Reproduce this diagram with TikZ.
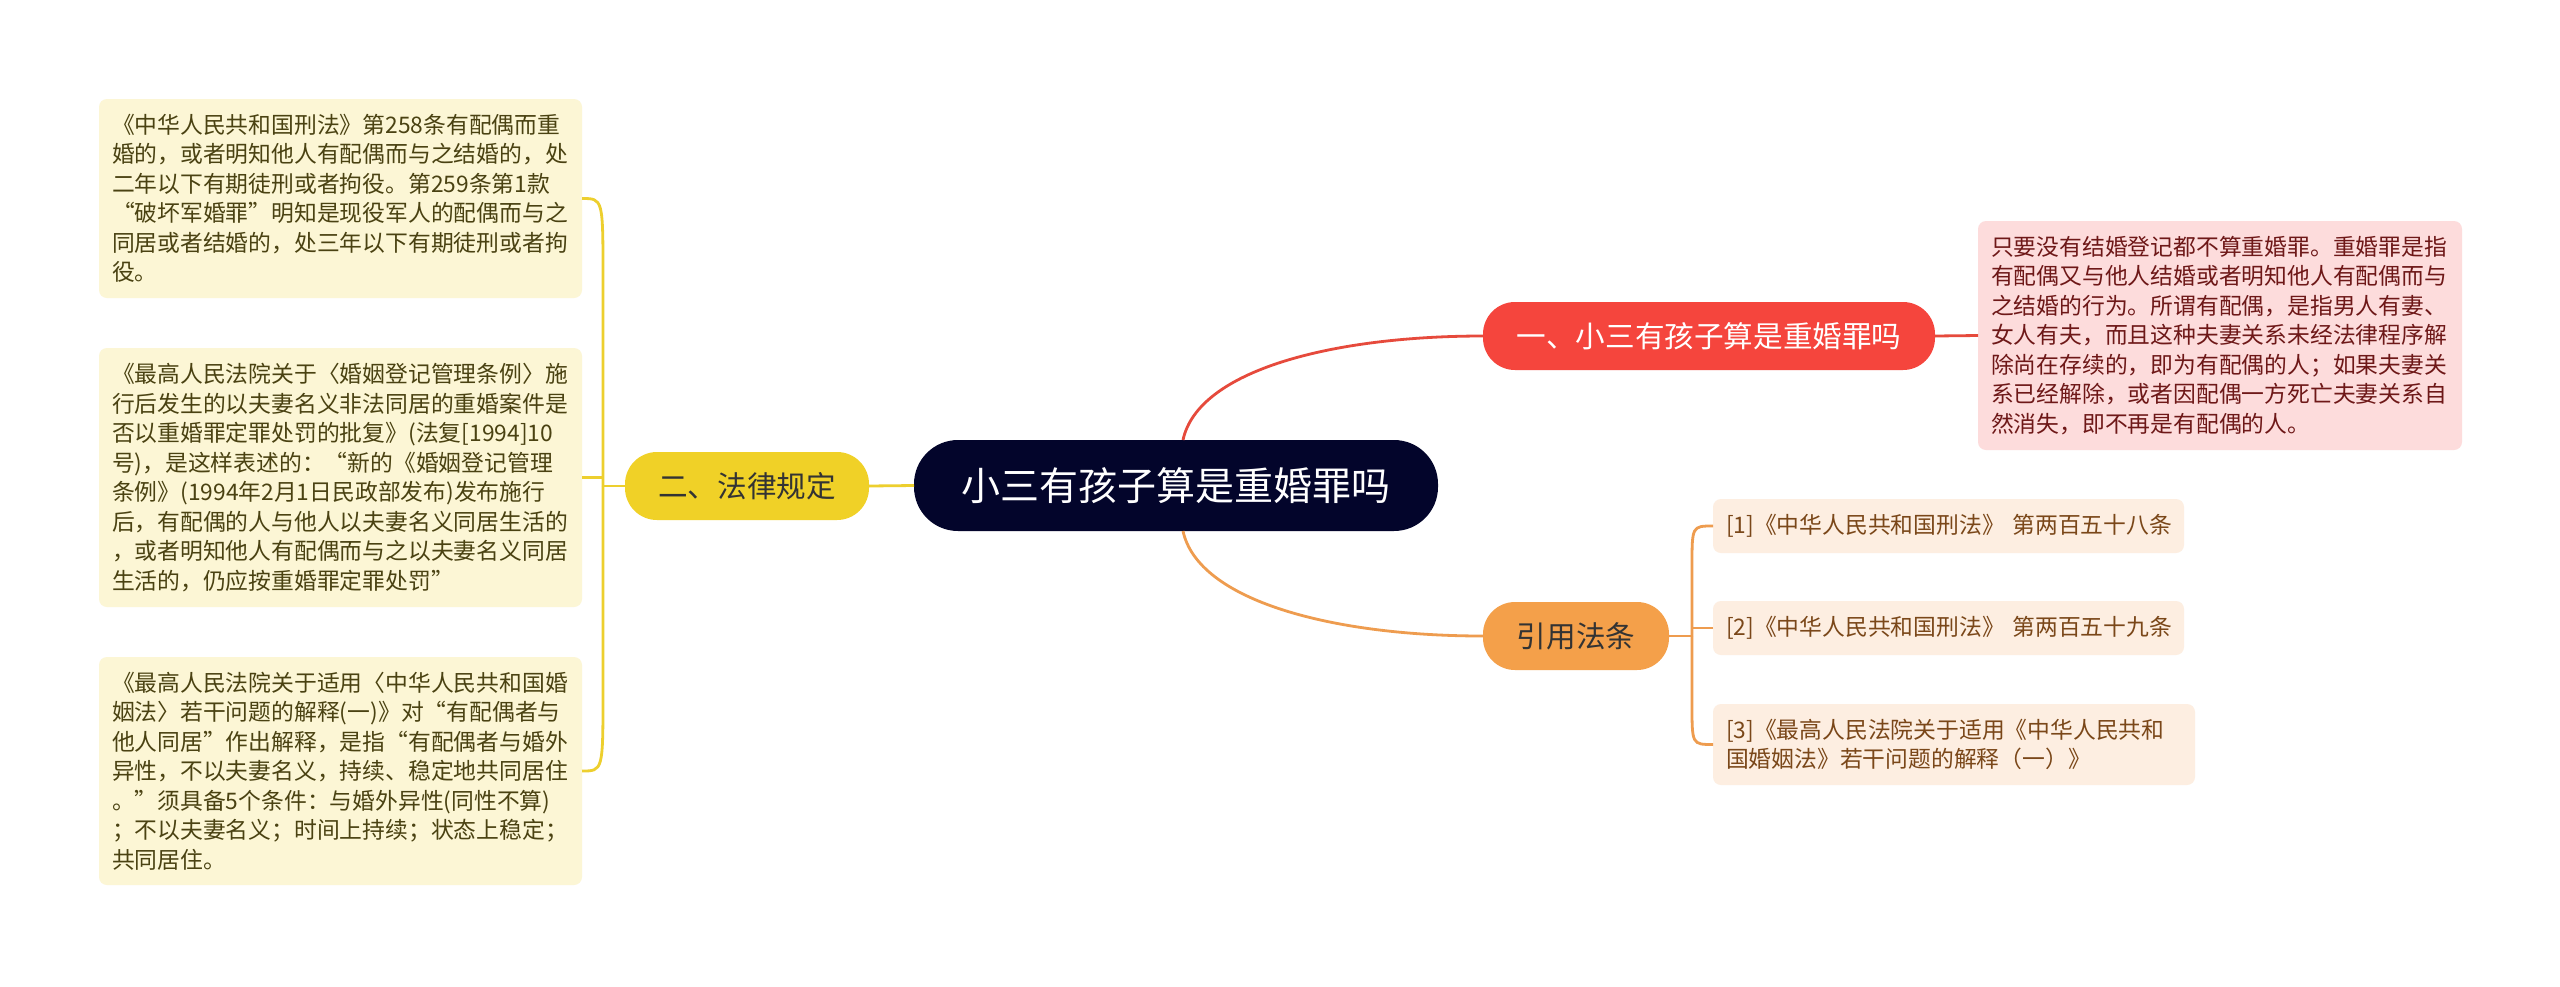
\documentclass[tikz,border=0pt]{standalone}
\usepackage{fontspec}
\setmainfont{Noto Sans CJK SC}
\usetikzlibrary{positioning}
\definecolor{topicbg}{HTML}{03052B}
\definecolor{redbg}{HTML}{F5453D}
\definecolor{yellowbg}{HTML}{F0D127}
\definecolor{orangebg}{HTML}{F4A04A}
\definecolor{notebg}{HTML}{FCF6D5}
\definecolor{notetx}{HTML}{4A4212}
\definecolor{pinkbg}{HTML}{FDDCDC}
\definecolor{pinktx}{HTML}{6E1818}
\definecolor{citebg}{HTML}{FDEEE1}
\definecolor{citetx}{HTML}{7A4719}
\definecolor{redline}{HTML}{E64A3C}
\definecolor{yellowline}{HTML}{EDCF2E}
\definecolor{orangeline}{HTML}{EE9C4F}

\begin{document}
\begin{tikzpicture}[
    x=0.5pt, y=-0.5pt,
    every node/.style={inner sep=0pt, outer sep=0pt},
    topic/.style={rounded corners=22pt, fill=topicbg, text=white, minimum width=262pt, minimum height=45.5pt, font=\fontsize{19.5pt}{23pt}\selectfont},
    branch/.style={rounded corners=16pt, minimum height=34pt, font=\fontsize{14.8pt}{18pt}\selectfont},
    leaf/.style={rounded corners=4pt, align=left, inner xsep=6.5pt, font=\fontsize{11.4pt}{14.75pt}\selectfont},
    note/.style={leaf, fill=notebg, text=notetx, text width=228.5pt},
    cite/.style={leaf, fill=citebg, text=citetx},
    link/.style={line width=1.4pt}
]
\path[use as bounding box, fill=white] (0,0) rectangle (2560,986);

\node[topic] (topic) at (1176,485.5) {小三有孩子算是重婚罪吗};
\node[branch, fill=yellowbg, text=black!80, minimum width=122pt] (law) at (747,486) {二、法律规定};
\node[branch, fill=redbg, text=white, minimum width=226pt] (q1) at (1709,336) {一、小三有孩子算是重婚罪吗};
\node[branch, fill=orangebg, text=black!80, minimum width=93pt] (refs) at (1576,636) {引用法条};

\node[leaf, fill=pinkbg, text=pinktx, text width=229pt, minimum height=114.5pt] (ans) at (2220,335.5) {只要没有结婚登记都不算重婚罪。重婚罪是指\\
有配偶又与他人结婚或者明知他人有配偶而与\\
之结婚的行为。所谓有配偶，是指男人有妻、\\
女人有夫，而且这种夫妻关系未经法律程序解\\
除尚在存续的，即为有配偶的人；如果夫妻关\\
系已经解除，或者因配偶一方死亡夫妻关系自\\
然消失，即不再是有配偶的人。};

\node[note, minimum height=99.5pt] (law1) at (340.5,198.5) {《中华人民共和国刑法》第258条有配偶而重\\
婚的，或者明知他人有配偶而与之结婚的，处\\
二年以下有期徒刑或者拘役。第259条第1款\\
“破坏军婚罪”明知是现役军人的配偶而与之\\
同居或者结婚的，处三年以下有期徒刑或者拘\\
役。};
\node[note, minimum height=129.5pt] (law2) at (340.5,477.5) {《最高人民法院关于〈婚姻登记管理条例〉施\\
行后发生的以夫妻名义非法同居的重婚案件是\\
否以重婚罪定罪处罚的批复》(法复[1994]10\\
号)，是这样表述的：“新的《婚姻登记管理\\
条例》(1994年2月1日民政部发布)发布施行\\
后，有配偶的人与他人以夫妻名义同居生活的\\
，或者明知他人有配偶而与之以夫妻名义同居\\
生活的，仍应按重婚罪定罪处罚”};
\node[note, minimum height=114pt] (law3) at (340.5,771) {《最高人民法院关于适用〈中华人民共和国婚\\
姻法〉若干问题的解释(一)》对“有配偶者与\\
他人同居”作出解释，是指“有配偶者与婚外\\
异性，不以夫妻名义，持续、稳定地共同居住\\
。”须具备5个条件：与婚外异性(同性不算)\\
；不以夫妻名义；时间上持续；状态上稳定；\\
共同居住。};

\node[cite, text width=222.5pt, minimum height=27pt] (c1) at (1948.5,526) {[1]《中华人民共和国刑法》~第两百五十八条};
\node[cite, text width=222.5pt, minimum height=27pt] (c2) at (1948.5,628) {[2]《中华人民共和国刑法》~第两百五十九条};
\node[cite, text width=228pt, minimum height=40.5pt] (c3) at (1954,744.5) {[3]《最高人民法院关于适用《中华人民共和\\
国婚姻法》若干问题的解释（一）》};

\draw[link, redline] ([xshift=3.5pt]topic.north) .. controls +(15,-70) and +(-150,0) .. (q1.west);
\draw[link, redline] (q1.east) -- (ans.west);
\draw[link, orangeline] ([xshift=3.5pt]topic.south) .. controls +(15,70) and +(-150,0) .. (refs.west);
\draw[link, yellowline] (topic.west) -- (law.east);

\draw[link, yellowline] (law.west) -- ++(-22,0) coordinate (lawfork);
\coordinate (lawtop) at (lawfork |- law1.east);
\coordinate (lawbot) at (lawfork |- law3.east);
\draw[link, yellowline] (law1.east) .. controls (lawtop) .. ([yshift=-40pt]lawtop) -- (lawfork);
\draw[link, yellowline] (law3.east) .. controls (lawbot) .. ([yshift=40pt]lawbot) -- (lawfork);
\draw[link, yellowline] (law2.east) -- (law2.east -| lawfork);

\draw[link, orangeline] (refs.east) -- ++(23,0) coordinate (reffork);
\coordinate (reftop) at (reffork |- c1.west);
\coordinate (refbot) at (reffork |- c3.west);
\draw[link, orangeline] (c1.west) .. controls (reftop) .. ([yshift=-20pt]reftop) -- (reffork);
\draw[link, orangeline] (c3.west) .. controls (refbot) .. ([yshift=20pt]refbot) -- (reffork);
\draw[link, orangeline] (c2.west) -- (c2.west -| reffork);
\end{tikzpicture}
\end{document}
